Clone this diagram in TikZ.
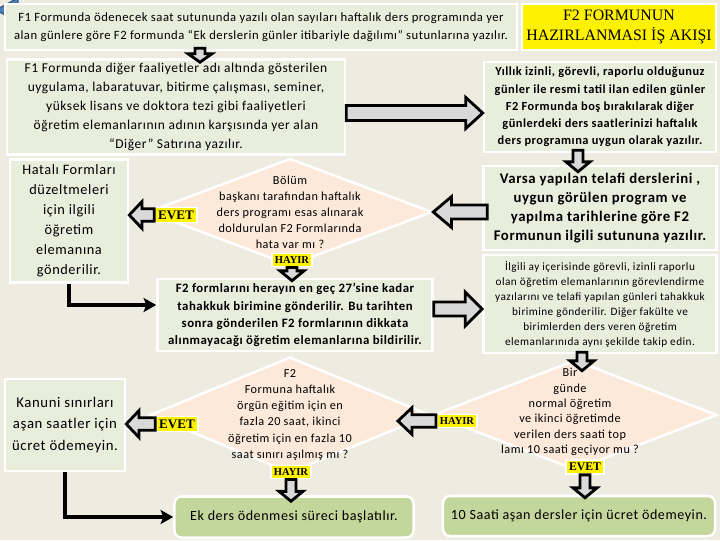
\documentclass[tikz,border=0pt]{standalone}
\usepackage{fontspec}
\setmainfont{Carlito}[LetterSpace=4]
\newfontfamily\titlefont{Liberation Serif}
\usetikzlibrary{shapes.geometric, calc, arrows.meta, positioning}

\definecolor{slidebg}{HTML}{EEECE1}
\definecolor{notefill}{HTML}{E9EDDC}
\definecolor{endfill}{HTML}{C3D69B}
\definecolor{askfill}{HTML}{FCE9DA}
\definecolor{arrowfill}{HTML}{D9D9D9}
\definecolor{navblue}{HTML}{4F81BD}
\definecolor{navedge}{HTML}{385D8A}

\tikzset{
  notebox/.style={rectangle, draw=white, line width=1.8pt, fill=notefill,
    align=center, inner sep=0pt},
  greenbox/.style={notebox, fill=endfill, rounded corners=5pt},
  decision/.style={diamond, draw=white, line width=1.8pt, fill=askfill, inner sep=0pt},
  asktext/.style={align=center, font=\fontsize{8.7}{11.4}\selectfont},
  answer/.style={rectangle, draw=white, line width=1.2pt, fill=yellow, inner sep=2.2pt,
    font=\titlefont\bfseries\fontsize{7.5}{8.5}\selectfont},
  bigyes/.style={answer, font=\titlefont\bfseries\fontsize{9.3}{10}\selectfont},
  blockarrow/.style={fill=arrowfill, draw=black, line width=2pt, line join=miter},
  elbow/.style={draw=black, line width=2.2pt, -{Stealth[length=9pt,width=10pt,inset=2pt]}},
}

% block arrow: start, end, shaft half width, head half width, head length
\newcommand{\blockarr}[5]{%
  \path (#1) coordinate (ba s) (#2) coordinate (ba t);
  \path ($(ba t)!#5!(ba s)$) coordinate (ba b);
  \draw[blockarrow] ($(ba s)!#3!90:(ba t)$) -- ($(ba b)!#3!90:(ba t)$)
    -- ($(ba b)!#4!90:(ba t)$) -- (ba t) -- ($(ba b)!#4!-90:(ba t)$)
    -- ($(ba b)!#3!-90:(ba t)$) -- ($(ba s)!#3!-90:(ba t)$) -- cycle;}

\begin{document}
\begin{tikzpicture}[x=0.025cm, y=-0.025cm]
  \useasboundingbox (0,0) rectangle (720,540);
  \fill[slidebg] (0,0) rectangle (720,540);

  % navigation arrow
  \draw[fill=navblue, draw=navedge, line width=1pt]
    (80,4) -- (18,4) -- (18,-2) -- (-4,10) -- (18,22) -- (18,16) -- (80,16) -- cycle;

  % boxes
  \node[notebox, minimum width=12.8cm, minimum height=1.15cm,
    font=\fontsize{9}{12.8}\selectfont] (topnote) at (261,27)
    {F1 Formunda ödenecek saat sutununda yazılı olan  sayıları haftalık ders  programında yer\\
     alan  günlere göre  F2 formunda “Ek derslerin günler itibariyle dağılımı” sutunlarına yazılır.};
  \node[notebox, fill=yellow, minimum width=4.85cm, minimum height=1.15cm,
    font=\titlefont\fontsize{11.3}{13.8}\selectfont] (title) at (619,27)
    {F2 FORMUNUN\\HAZIRLANMASI İŞ AKIŞI};
  \node[notebox, minimum width=8.45cm, minimum height=2.375cm,
    font=\fontsize{9.6}{13.5}\selectfont] (other) at (176,107)
    {F1 Formunda diğer faaliyetler adı altında gösterilen\\
     uygulama, labaratuvar, bitirme çalışması, seminer,\\
     yüksek lisans ve doktora tezi gibi  faaliyetleri\\
     öğretim elemanlarının adının karşısında yer alan\\
     “Diğer” Satırına yazılır.};
  \node[notebox, minimum width=5.8cm, minimum height=2.25cm,
    font=\bfseries\fontsize{8.8}{12.2}\selectfont] (leave) at (600,107)
    {Yıllık izinli, görevli, raporlu olduğunuz\\
     günler  ile resmi tatil ilan edilen günler\\
     F2  Formunda boş bırakılarak diğer\\
     günlerdeki ders saatlerinizi haftalık\\
     ders programına  uygun olarak yazılır.};
  \node[notebox, minimum width=5.825cm, minimum height=2.1cm,
    font=\bfseries\fontsize{10.5}{13.5}\selectfont] (makeup) at (600,208)
    {Varsa yapılan telafi derslerini ,\\
     uygun görülen program ve\\
     yapılma tarihlerine göre F2\\
     Formunun ilgili sutununa yazılır.};
  \node[notebox, minimum width=5.825cm, minimum height=2.45cm,
    font=\fontsize{8}{10.7}\selectfont] (follow) at (600,304)
    {İlgili ay içerisinde görevli, izinli raporlu\\
     olan öğretim elemanlarının görevlendirme\\
     yazılarını ve telafi yapılan günleri tahakkuk\\
     birimine gönderilir.  Diğer fakülte ve\\
     birimlerden ders veren öğretim\\
     elemanlarınıda aynı şekilde takip edin.};
  \node[notebox, minimum width=2.95cm, minimum height=3.075cm,
    font=\fontsize{10.2}{14.2}\selectfont] (faulty) at (69,221)
    {Hatalı Formları\\ düzeltmeleri\\ için ilgili\\ öğretim\\ elemanına\\ gönderilir.};
  \node[notebox, minimum width=6.875cm, minimum height=1.8cm,
    font=\bfseries\fontsize{9.1}{12.2}\selectfont] (deadline) at (295,315)
    {F2 formlarını herayın en geç 27’sine kadar\\
     tahakkuk birimine gönderilir. Bu tarihten\\
     sonra gönderilen F2 formlarının dikkata\\
     alınmayacağı öğretim elemanlarına bildirilir.};
  \node[notebox, minimum width=3cm, minimum height=2.3cm,
    font=\fontsize{10.5}{15}\selectfont] (unpaid) at (65,425)
    {Kanuni sınırları\\ aşan saatler için\\ ücret ödemeyin.};
  \node[greenbox, minimum width=5.975cm, minimum height=1.025cm,
    font=\fontsize{10}{12}\selectfont] (start) at (294,517)
    {Ek ders ödenmesi süreci başlatılır.};
  \node[greenbox, minimum width=6.8cm, minimum height=1cm,
    font=\fontsize{10}{12}\selectfont] (over) at (579,516)
    {10 Saati aşan dersler için ücret ödemeyin.};

  % decisions
  \node[decision, minimum width=7.1cm, minimum height=2.675cm] (check) at (290,212) {};
  \node[asktext] at (check)
    {Bölüm\\ başkanı tarafından haftalık\\ ders programı esas alınarak\\
     doldurulan F2  Formlarında\\ hata  var mı ?};
  \node[decision, minimum width=7cm, minimum height=2.9cm] (weekly) at (290,415) {};
  \node[asktext] at (weekly)
    {F2\\ Formuna haftalık\\ örgün eğitim için en\\ fazla 20 saat, ikinci\\
     öğretim için en fazla 10\\ saat sınırı aşılmış mı ?};
  \node[decision, minimum width=7.1cm, minimum height=2.75cm] (daily) at (575,415) {};
  \node[asktext, font=\fontsize{8.7}{10.9}\selectfont] at ($(daily)+(-5,-3)$)
    {Bir\\ günde\\ normal öğretim\\ ve ikinci öğretimde\\
     verilen ders saati top\\ lamı 10 saati geçiyor mu ?};

  % answers
  \node[bigyes] (evet1) at (176,215) {EVET};
  \node[answer] (hayir1) at (292,260) {HAYIR};
  \node[bigyes] (evet3) at (177,424) {EVET};
  \node[answer] (hayir3) at (291,472) {HAYIR};
  \node[answer] (hayir2) at (457,421) {HAYIR};
  \node[answer, font=\titlefont\bfseries\fontsize{8.3}{9}\selectfont] (evet2) at (585,467) {EVET};

  % connectors
  \blockarr{$(topnote.south)+(-61,-3)$}{$(other.north)+(24,4)$}{3.5pt}{8.5pt}{6pt}
  \blockarr{$(other.east)+(0,6)$}{$(leave.west)+(0,6)$}{5.3pt}{11pt}{12pt}
  \blockarr{$(leave.south)+(-22,-3)$}{$(makeup.north)+(-22,7)$}{3.5pt}{8.5pt}{7pt}
  \blockarr{$(makeup.west)+(5,4)$}{check.east}{5pt}{11pt}{13pt}
  \blockarr{evet1.west}{evet1.west -| faulty.east}{4.5pt}{9.5pt}{9pt}
  \blockarr{hayir1.south}{$(hayir1.south |- deadline.north)+(0,3)$}{3.5pt}{8.5pt}{7pt}
  \blockarr{$(deadline.east)+(0,-6)$}{$(follow.west)+(0,5)$}{5pt}{12pt}{12pt}
  \blockarr{$(follow.south)+(-18,-2)$}{$(daily.north)+(7,12)$}{3.5pt}{8.5pt}{7pt}
  \blockarr{hayir2.west}{$(hayir2.west)+(-38,0)$}{4.5pt}{9.5pt}{10pt}
  \blockarr{evet3.west}{evet3.west -| unpaid.east}{4.5pt}{9.5pt}{9pt}
  \blockarr{hayir3.south}{$(hayir3.south |- start.north)+(0,6)$}{3.5pt}{8.5pt}{7pt}
  \blockarr{evet2.south}{$(evet2.south |- over.north)+(0,3)$}{3.5pt}{8.5pt}{7pt}

  \draw[elbow] (faulty.south) |- ($(deadline.west)+(0,-10)$);
  \draw[elbow] (unpaid.south) |- (start.west);
\end{tikzpicture}
\end{document}
